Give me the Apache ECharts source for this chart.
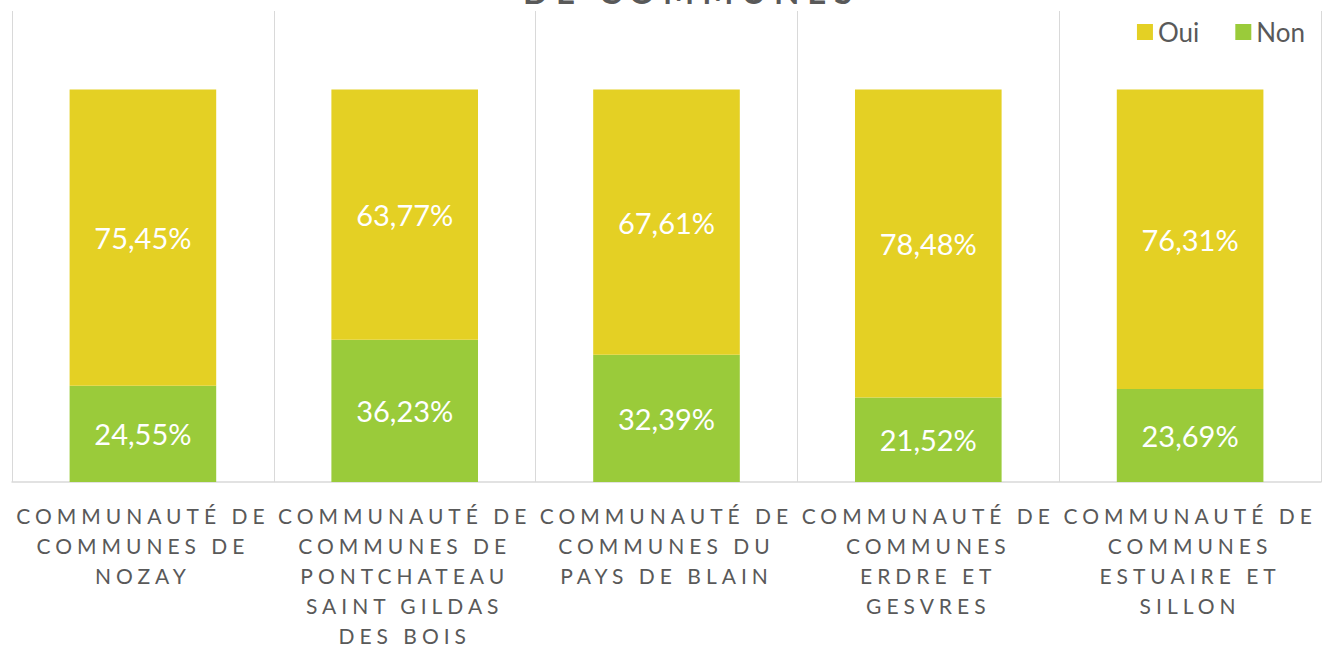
<!DOCTYPE html>
<html>
<head>
<meta charset="utf-8">
<script src="https://cdn.jsdelivr.net/npm/echarts@6/dist/echarts.min.js"></script>
<style>
  html, body { margin: 0; padding: 0; background: #fff; }
  #chart { width: 1322px; height: 647px; }
</style>
</head>
<body>
<div id="chart"></div>
<script>
// categories (line breaks as in the reference)
const categories = [
  "COMMUNAUTÉ DE\nCOMMUNES DE\nNOZAY",
  "COMMUNAUTÉ DE\nCOMMUNES DE\nPONTCHATEAU\nSAINT GILDAS\nDES BOIS",
  "COMMUNAUTÉ DE\nCOMMUNES DU\nPAYS DE BLAIN",
  "COMMUNAUTÉ DE\nCOMMUNES\nERDRE ET\nGESVRES",
  "COMMUNAUTÉ DE\nCOMMUNES\nESTUAIRE ET\nSILLON"
];
const nonValues = [24.55, 36.23, 32.39, 21.52, 23.69];
const ouiValues = [75.45, 63.77, 67.61, 78.48, 76.31];

const textGray = "#595959";
const gridGray = "#d9d9d9";

const chart = echarts.init(document.getElementById("chart"), null, { renderer: "svg" });

function pct(p) {
  return p.value.toFixed(2).replace(".", ",") + "%";
}

let option = {
  animation: false,
  title: {
    text: "DE COMMUNES",
    left: 518,
    top: -31,
    textStyle: {
      fontFamily: "Lato",
      fontSize: 33,
      fontWeight: "bold",
      color: textGray
    }
  },
  legend: {
    data: ["Oui", "Non"],
    right: 12,
    top: 14,
    icon: "rect",
    itemWidth: 16,
    itemHeight: 16,
    itemGap: 36,
    textStyle: {
      fontFamily: "Lato",
      fontSize: 26,
      color: textGray
    }
  },
  grid: {
    left: 12,
    right: 1,
    top: 11,
    bottom: 165,
    outerBoundsMode: "none"
  },
  xAxis: {
    type: "category",
    data: categories,
    axisTick: { show: false },
    axisLine: { lineStyle: { color: gridGray, width: 1.5 } },
    splitLine: { show: true, lineStyle: { color: gridGray, width: 1 } },
    axisLabel: {
      interval: 0,
      margin: 18,
      fontFamily: "Lato",
      fontSize: 21,
      lineHeight: 30,
      color: textGray
    }
  },
  yAxis: {
    type: "value",
    min: 0,
    max: 120,
    show: false,
    splitLine: { show: false }
  },
  series: [
    {
      name: "Non",
      type: "bar",
      stack: "total",
      barWidth: "56%",
      data: nonValues,
      itemStyle: { color: "#9ACB3A" },
      label: {
        show: true,
        position: "inside",
        formatter: pct,
        fontFamily: "Lato",
        fontSize: 29,
        color: "#fff"
      }
    },
    {
      name: "Oui",
      type: "bar",
      stack: "total",
      barWidth: "56%",
      data: ouiValues,
      itemStyle: { color: "#E4D024" },
      label: {
        show: true,
        position: "inside",
        formatter: pct,
        fontFamily: "Lato",
        fontSize: 29,
        color: "#fff"
      }
    }
  ]
};

// letter-spaced capitals, like the original axis labels and title
function spaceLetters() {
  document.querySelectorAll("#chart text").forEach(function (el) {
    const size = getComputedStyle(el).fontSize;
    if (size === "21px") el.setAttribute("letter-spacing", "5");
    if (size === "33px") el.setAttribute("letter-spacing", "8");
  });
}
chart.on("finished", spaceLetters);
chart.setOption(option);
spaceLetters();
</script>
</body>
</html>
